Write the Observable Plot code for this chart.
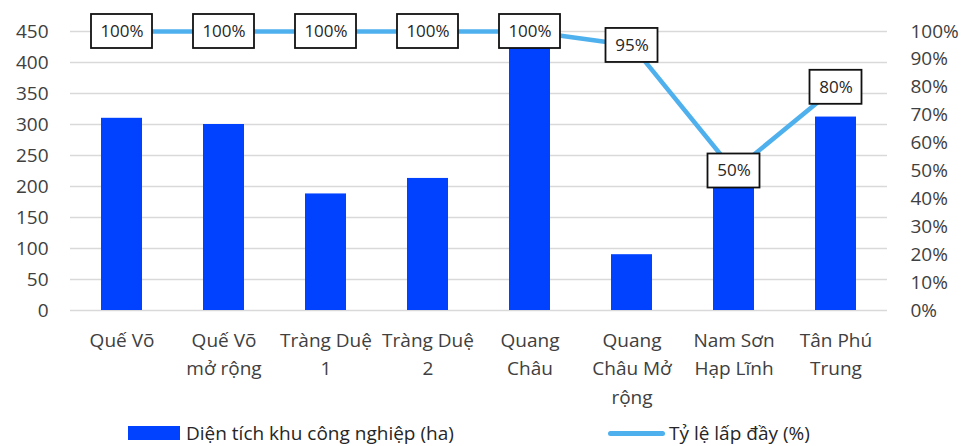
<!DOCTYPE html>
<html>
<head>
<meta charset="utf-8">
<script src="https://cdn.jsdelivr.net/npm/d3@7"></script>
<script src="https://cdn.jsdelivr.net/npm/@observablehq/plot@0.6"></script>
<style>
  body { margin: 0; background: #fff; font-family: "Open Sans", sans-serif; }
  #chart { position: relative; width: 975px; height: 446px; overflow: hidden; }
  #chart svg { display: block; }
  .legend { position: absolute; left: 0; top: 420px; width: 975px; height: 26px; font-size: 19px; color: #262626; }
  .legend .item { position: absolute; top: 0; height: 26px; display: flex; align-items: center; white-space: nowrap; }
  .legend .bar { width: 52px; height: 14px; background: #0042ff; margin-right: 6px; }
  .legend .line { width: 57px; height: 5px; border-radius: 3px; background: #4fb0ee; margin-right: 4px; }
</style>
</head>
<body>
<div id="chart"></div>
<script>
// Industrial parks, their area (ha) and occupancy rate (%)
const parks = ["Quế Võ", "Quế Võ mở rộng", "Tràng Duệ 1", "Tràng Duệ 2", "Quang Châu", "Quang Châu Mở rộng", "Nam Sơn Hạp Lĩnh", "Tân Phú Trung"];
const parkLabels = ["Quế Võ", "Quế Võ\nmở rộng", "Tràng Duệ\n1", "Tràng Duệ\n2", "Quang\nChâu", "Quang\nChâu Mở\nrộng", "Nam Sơn\nHạp Lĩnh", "Tân Phú\nTrung"];
const areaHa = [310, 300, 188, 213, 426, 90, 200, 312];
const fillRate = [100, 100, 100, 100, 100, 95, 50, 80];

const areaTicks = [0, 50, 100, 150, 200, 250, 300, 350, 400, 450];
const rateTicks = [0, 10, 20, 30, 40, 50, 60, 70, 80, 90, 100];

const seriesNames = ["Diện tích khu công nghiệp (ha)", "Tỷ lệ lấp đầy (%)"];

// The right axis (0–100%) shares the left axis' 0–450 range
const AREA_MAX = 450;
const rateToArea = (p) => p / 100 * AREA_MAX;

const rows = parks.map((park, i) => ({ park, area: areaHa[i], rate: fillRate[i] }));

const BAR = "#0042ff";
const LINE = "#4fb0ee";

const chart = Plot.plot({
  width: 975,
  height: 420,
  marginLeft: 70,
  marginRight: 88,
  marginTop: 31,
  marginBottom: 110,
  style: { fontFamily: "'Open Sans', sans-serif", fontSize: "19px", color: "#404040", background: "white" },
  x: { domain: parks, paddingInner: 0.6, paddingOuter: 0.3, axis: null },
  y: { domain: [0, AREA_MAX], axis: null },
  marks: [
    Plot.gridY(areaTicks, { stroke: "#d9d9d9", strokeOpacity: 1, strokeWidth: 1.5 }),
    Plot.axisY(areaTicks, { anchor: "left", tickSize: 0, tickPadding: 22, label: null, fontSize: 19 }),
    Plot.axisY(rateTicks.map(rateToArea), {
      anchor: "right", tickSize: 0, tickPadding: 23, label: null, fontSize: 19,
      tickFormat: (d) => `${Math.round(d / AREA_MAX * 100)}%`
    }),
    Plot.axisX({
      tickSize: 0, tickPadding: 16, label: null, fontSize: 19, lineHeight: 1.5,
      tickFormat: (d) => parkLabels[parks.indexOf(d)]
    }),
    Plot.barY(rows, { x: "park", y: "area", fill: BAR }),
    Plot.line(rows, { x: "park", y: (d) => rateToArea(d.rate), stroke: LINE, strokeWidth: 4.5, curve: "linear" }),
    // value boxes on the occupancy line
    Plot.barY(rows, {
      filter: (d) => d.rate >= 100,
      x: "park", y1: (d) => rateToArea(d.rate), y2: (d) => rateToArea(d.rate),
      fill: "white", stroke: "#111", strokeWidth: 1.8,
      insetLeft: -10, insetRight: -10, insetTop: -17, insetBottom: -17
    }),
    Plot.barY(rows, {
      filter: (d) => d.rate < 100,
      x: "park", y1: (d) => rateToArea(d.rate), y2: (d) => rateToArea(d.rate),
      fill: "white", stroke: "#111", strokeWidth: 1.8,
      insetLeft: -5.5, insetRight: -5.5, insetTop: -17, insetBottom: -17
    }),
    Plot.text(rows, {
      x: "park", y: (d) => rateToArea(d.rate), text: (d) => `${d.rate}%`,
      fontSize: 17, fill: "#262626"
    })
  ]
});

const host = document.getElementById("chart");
host.appendChild(chart);

const legend = document.createElement("div");
legend.className = "legend";
legend.innerHTML =
  `<div class="item" style="left:128px"><span class="bar"></span><span>${seriesNames[0]}</span></div>` +
  `<div class="item" style="left:608px"><span class="line"></span><span>${seriesNames[1]}</span></div>`;
host.appendChild(legend);
</script>
</body>
</html>
